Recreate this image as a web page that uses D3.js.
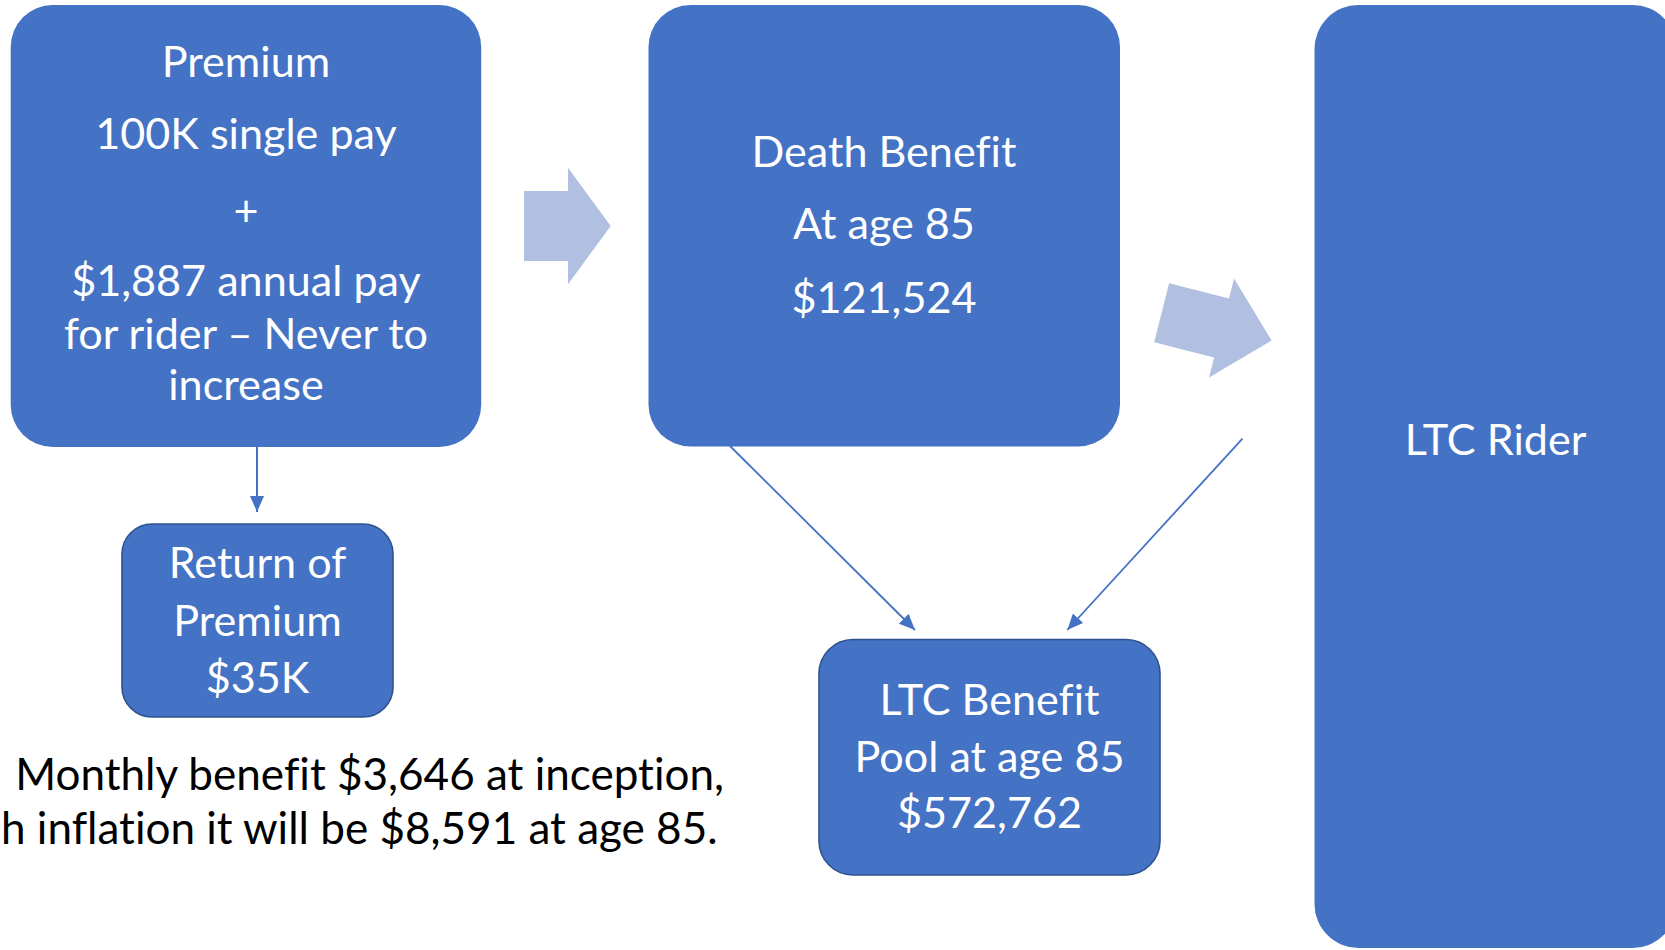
<!DOCTYPE html>
<html>
<head>
<meta charset="utf-8">
<script src="https://cdn.jsdelivr.net/npm/d3@7"></script>
<style>
  html, body { margin: 0; padding: 0; background: #ffffff; }
  svg { display: block; }
  text { font-variant-ligatures: none; font-feature-settings: "liga" 0; }
</style>
</head>
<body>
<script>
// ---------- DATA (texts of the diagram) ----------
const premiumLines = ["Premium", "100K single pay", "+", "$1,887 annual pay", "for rider \u2013 Never to", "increase"];
const returnLines  = ["Return of", "Premium", "$35K"];
const deathLines   = ["Death Benefit", "At age 85", "$121,524"];
const poolLines    = ["LTC Benefit", "Pool at age 85", "$572,762"];
const riderLines   = ["LTC Rider"];
// second line is cut at the left edge of the reference slide: only its visible part is shown
const noteLines    = ["Monthly benefit $3,646 at inception,", "h inflation it will be $8,591 at age 85."];

// ---------- LAYOUT (positions / sizes / styles) ----------
const W = 1665, H = 950;
const FONT = "Lato, 'Open Sans', 'Noto Sans', sans-serif";
const FILL = "#4472c4", DARK = "#2f528f", LIGHT = "#b1bfe0";

const boxLayout = [
  { lines: premiumLines, x: 10.7, y: 5,   w: 470.5, h: 442, r: 42, stroke: null, cx: 246,
    baselines: [77, 149, 226, 296, 349, 400], widths: [172, 297, null, 355, 372, 158] },
  { lines: returnLines,  x: 122,  y: 524, w: 271,   h: 193, r: 30, stroke: DARK, cx: 257.5,
    baselines: [578, 636, 693], widths: [180, 173, 95] },
  { lines: deathLines,   x: 648.5, y: 5,  w: 471.5, h: 441.5, r: 42, stroke: null, cx: 884,
    baselines: [166.7, 239.3, 312.7], widths: [265, 179, 180] },
  { lines: poolLines,    x: 819,  y: 639.5, w: 341, h: 235.5, r: 34, stroke: DARK, cx: 989.5,
    baselines: [715, 771.7, 828.3], widths: [214, 271, 179] },
  { lines: riderLines,   x: 1314.5, y: 5, w: 362, h: 943, r: 44, stroke: null, cx: 1495.5,
    baselines: [455], widths: [175] }
];

const noteLayout = { xs: [724, 1], anchors: ["end", "start"], baselines: [790, 843.5], refWidth: 709 };

const connectors = [
  { from: [257, 447],    to: [257, 512],    sw: 2 },
  { from: [730, 446],    to: [915, 630],    sw: 1.8 },
  { from: [1242.5, 438.6], to: [1067.3, 630], sw: 1.8 }
];

const bigArrows = [
  { x: 524,     y: 226,   angle: 0,    bodyLen: 44,   bodyH: 70, headLen: 42.7, headH: 116.3 },
  { x: 1161.65, y: 312.8, angle: 14.2, bodyLen: 61.8, bodyH: 61, headLen: 51.6, headH: 102 }
];

// ---------- DRAW ----------
const svg = d3.select("body").append("svg")
  .attr("width", W).attr("height", H)
  .attr("viewBox", `0 0 ${W} ${H}`);

svg.append("rect").attr("width", W).attr("height", H).attr("fill", "#ffffff");

function measure(str) {
  const t = svg.append("text").attr("font-family", FONT).attr("font-size", 100).text(str);
  const w = t.node().getComputedTextLength();
  t.remove();
  return w;
}

// fit one common font size for box texts from the visible line widths
const ratios = [];
boxLayout.forEach(b => b.lines.forEach((l, i) => {
  if (b.widths[i]) ratios.push(100 * b.widths[i] / measure(l));
}));
const boxFont = d3.median(ratios);
const noteFont = 100 * noteLayout.refWidth / measure(noteLines[0]);

// big light arrows
const arrowG = svg.append("g");
bigArrows.forEach(a => {
  const pts = [
    [0, -a.bodyH / 2], [a.bodyLen, -a.bodyH / 2], [a.bodyLen, -a.headH / 2],
    [a.bodyLen + a.headLen, 0],
    [a.bodyLen, a.headH / 2], [a.bodyLen, a.bodyH / 2], [0, a.bodyH / 2]
  ];
  arrowG.append("path")
    .attr("d", d3.line()(pts) + "Z")
    .attr("fill", LIGHT)
    .attr("transform", `translate(${a.x},${a.y}) rotate(${a.angle})`);
});

// marker for connector arrows
const defs = svg.append("defs");
defs.append("marker")
  .attr("id", "tri")
  .attr("markerUnits", "userSpaceOnUse")
  .attr("viewBox", "0 0 16 14")
  .attr("markerWidth", 16).attr("markerHeight", 14)
  .attr("refX", 16).attr("refY", 7)
  .attr("orient", "auto")
  .append("path").attr("d", "M0,0 L16,7 L0,14 Z").attr("fill", FILL);

// boxes
const boxG = svg.append("g").selectAll("g").data(boxLayout).join("g");
boxG.append("rect")
  .attr("x", d => d.x).attr("y", d => d.y)
  .attr("width", d => d.w).attr("height", d => d.h)
  .attr("rx", d => d.r).attr("ry", d => d.r)
  .attr("fill", FILL)
  .attr("stroke", d => d.stroke || "none")
  .attr("stroke-width", d => d.stroke ? 1.6 : 0);

boxG.each(function(d) {
  d3.select(this).selectAll("text").data(d.lines).join("text")
    .attr("x", d.cx)
    .attr("y", (l, i) => d.baselines[i])
    .attr("text-anchor", "middle")
    .attr("font-family", FONT)
    .attr("font-size", boxFont)
    .attr("fill", "#ffffff")
    .text(l => l);
});

// connectors
const lineGen = d3.line();
svg.append("g").selectAll("path").data(connectors).join("path")
  .attr("d", c => lineGen([c.from, c.to]))
  .attr("stroke", FILL)
  .attr("stroke-width", c => c.sw)
  .attr("fill", "none")
  .attr("marker-end", "url(#tri)");

// note text
svg.append("g").selectAll("text").data(noteLines).join("text")
  .attr("x", (l, i) => noteLayout.xs[i])
  .attr("y", (l, i) => noteLayout.baselines[i])
  .attr("text-anchor", (l, i) => noteLayout.anchors[i])
  .attr("font-family", FONT)
  .attr("font-size", noteFont)
  .attr("fill", "#000000")
  .text(l => l);
</script>
</body>
</html>
